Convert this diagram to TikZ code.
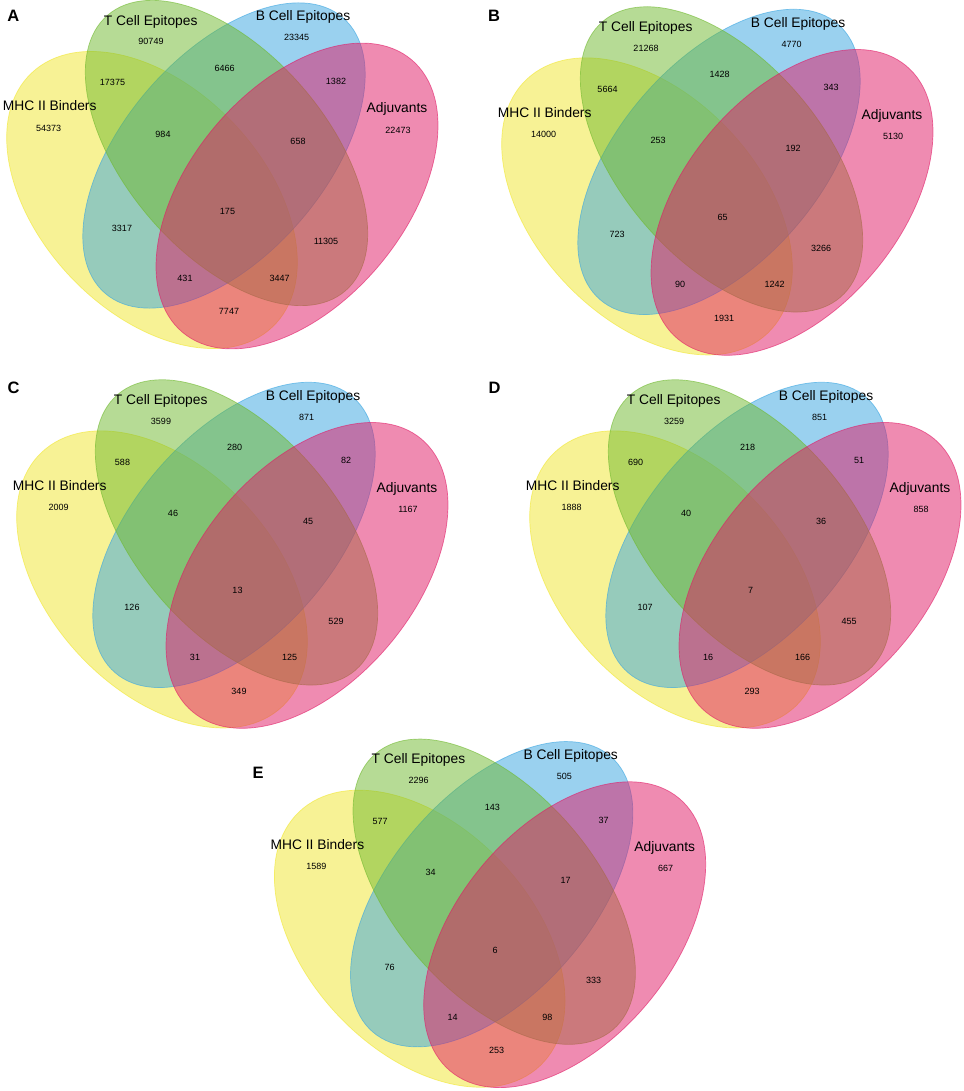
\documentclass[tikz,border=0pt]{standalone}
\usepackage{fontspec}
\setmainfont{Liberation Sans}
\definecolor{cM}{RGB}{241,231,45}
\definecolor{cT}{RGB}{111,185,45}
\definecolor{cB}{RGB}{55,165,225}
\definecolor{cA}{RGB}{225,25,101}
\tikzset{
  setfill/.style={fill=#1, fill opacity=0.5, draw=#1, draw opacity=0.6, line width=0.7pt},
  cat/.style={font=\fontsize{13.8}{14}\selectfont, inner sep=0pt},
  num/.style={font=\fontsize{9}{10}\selectfont, inner sep=0pt},
  letter/.style={font=\fontsize{16.5}{17}\selectfont\bfseries, inner sep=0pt},
}
\newcommand\vennpanel[3]{%
\begin{scope}[shift={(#1)}]
  \begin{scope}[shift={(152,200)}, rotate=-46.5]
    \path[setfill=cM] (0,0) ellipse [x radius=175, y radius=112];
  \end{scope}
  \begin{scope}[shift={(224,155.5)}, rotate=49.2]
    \path[setfill=cB] (0,0) ellipse [x radius=182, y radius=100.5];
  \end{scope}
  \begin{scope}[shift={(226.5,153)}, rotate=-49.2]
    \path[setfill=cT] (0,0) ellipse [x radius=182, y radius=100.5];
  \end{scope}
  \begin{scope}[shift={(297,196)}, rotate=50]
    \path[setfill=cA] (0,0) ellipse [x radius=178, y radius=107.5];
  \end{scope}
  \node[cat] (#2-M) at (49.7,106) {MHC II Binders};
  \node[cat] (#2-T) at (150.7,21.7) {T Cell Epitopes};
  \node[cat] (#2-B) at (303,17.3) {B Cell Epitopes};
  \node[cat] (#2-A) at (397,109.3) {Adjuvants};
  \coordinate (p1) at (48.7,128);
  \coordinate (p2) at (151,41.7);
  \coordinate (p3) at (296.7,37.7);
  \coordinate (p4) at (398,130);
  \coordinate (p5) at (112.5,82.7);
  \coordinate (p6) at (224.7,68.3);
  \coordinate (p7) at (336,81.3);
  \coordinate (p8) at (163,134);
  \coordinate (p9) at (298,141.7);
  \coordinate (p10) at (227.5,211.3);
  \coordinate (p11) at (122,228.3);
  \coordinate (p12) at (326,241.7);
  \coordinate (p13) at (185,278.3);
  \coordinate (p14) at (279.7,278.3);
  \coordinate (p15) at (229,311.7);
  \foreach \v [count=\i] in {#3} {
    \node[num] (#2-n\i) at (p\i) {\v};
  }
\end{scope}}

\begin{document}
\begin{tikzpicture}[x=1pt, y=-1pt]
  \fill[white] (0,0) rectangle (963,1091);
  \useasboundingbox (0,0) rectangle (963,1091);
  \vennpanel{0,0}{A}{54373,90749,23345,22473,17375,6466,1382,984,658,175,3317,11305,431,3447,7747}
  \vennpanel{495,6.4}{B}{14000,21268,4770,5130,5664,1428,343,253,192,65,723,3266,90,1242,1931}
  \vennpanel{10,379.4}{C}{2009,3599,871,1167,588,280,82,46,45,13,126,529,31,125,349}
  \vennpanel{523,379.4}{D}{1888,3259,851,858,690,218,51,40,36,7,107,455,16,166,293}
  \vennpanel{267.7,738.7}{E}{1589,2296,505,667,577,143,37,34,17,6,76,333,14,98,253}
  \node[letter] (lA) at (13.3,15.7) {A};
  \node[letter] (lB) at (494,15.7) {B};
  \node[letter] (lC) at (13.7,388.3) {C};
  \node[letter] (lD) at (494.5,388.3) {D};
  \node[letter] (lE) at (258,773.3) {E};
\end{tikzpicture}
\end{document}
